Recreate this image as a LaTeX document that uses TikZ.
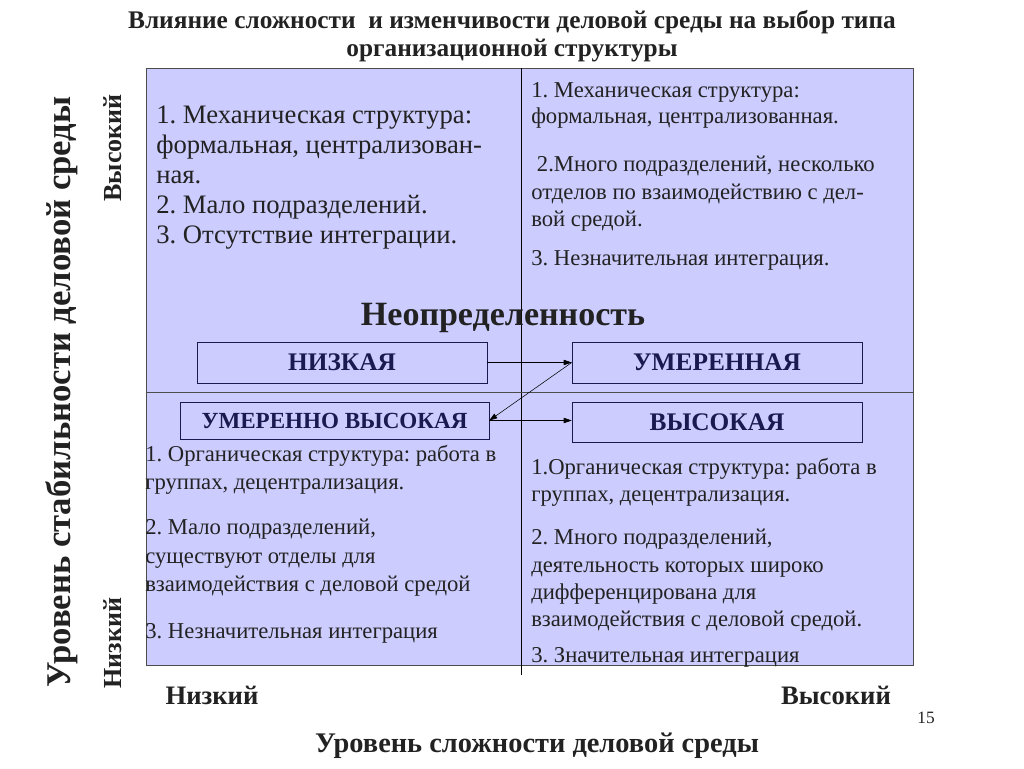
\documentclass[tikz,border=0pt]{standalone}
\usepackage{fontspec}
\setmainfont{Liberation Serif}
\usetikzlibrary{arrows.meta}
\frenchspacing

\definecolor{quadfill}{HTML}{CCCCFF}
\definecolor{navy}{HTML}{1A1A50}
\definecolor{ink}{HTML}{222222}

\begin{document}
\begin{tikzpicture}[x=0.75pt, y=-0.75pt,
  every node/.style={inner sep=0pt},
  txt/.style={anchor=north west, align=left, text=ink},
  level/.style={draw=navy, fill=quadfill, text=navy, font=\bfseries\fontsize{19}{22}\selectfont, minimum width=217.5pt, minimum height=30.75pt},
  axis/.style={font=\bfseries\fontsize{20}{22}\selectfont, text=ink},
  link/.style={-{Triangle[length=6pt, width=4pt]}, black, thin}
]
  \useasboundingbox (0,0) rectangle (1024,768);

  % title
  \node[align=center, font=\bfseries\fontsize{19}{21}\selectfont, text=ink] (title) at (512,36)
    {Влияние сложности\ \ и изменчивости деловой среды на выбор типа\\организационной структуры};

  % matrix of quadrants
  \fill[quadfill] (146,68) rectangle (913,665);
  \draw[black!70] (146,68) rectangle (913,665);
  \draw (521,68) -- (521,675);
  \draw[black!70] (146,392) -- (913,392);

  % top left
  \node[txt, font=\fontsize{20}{22.5}\selectfont] (mech1) at (156,106)
    {1. Механическая структура:\\формальная, централизован-\\ная.\\2. Мало подразделений.\\3. Отсутствие интеграции.};

  % top right
  \node[txt, font=\fontsize{17}{20}\selectfont] (mech2a) at (531,82)
    {1. Механическая структура:\\формальная, централизованная.};
  \node[txt, font=\fontsize{17}{20.6}\selectfont] (mech2b) at (531,156)
    {\ 2.Много подразделений, несколько\\отделов по взаимодействию с дел-\\вой средой.};
  \node[txt, font=\fontsize{17}{20}\selectfont] (mech2c) at (531,250)
    {3. Незначительная интеграция.};

  % bottom left
  \node[txt, font=\fontsize{17}{21.2}\selectfont] (org1a) at (145,445)
    {1. Органическая структура: работа в\\группах, децентрализация.};
  \node[txt, font=\fontsize{17}{21.2}\selectfont] (org1b) at (145,519)
    {2. Мало подразделений,\\существуют отделы для\\взаимодействия с деловой средой};
  \node[txt, font=\fontsize{17}{20}\selectfont] (org1c) at (145,623)
    {3. Незначительная интеграция};

  % bottom right
  \node[txt, font=\fontsize{17}{20.5}\selectfont] (org2a) at (531,458)
    {1.Органическая структура: работа в\\группах, децентрализация.};
  \node[txt, font=\fontsize{17}{20.5}\selectfont] (org2b) at (531,529)
    {2. Много подразделений,\\деятельность которых широко\\дифференцирована для\\взаимодействия с деловой средой.};
  \node[txt, font=\fontsize{17}{20}\selectfont] (org2c) at (531,647)
    {3. Значительная интеграция};

  % uncertainty levels
  \node[font=\bfseries\fontsize{25.5}{28}\selectfont, text=ink] (uncert) at (503,318) {Неопределенность};
  \node[level] (low) at (342,362.5) {НИЗКАЯ};
  \node[level] (moderate) at (717,362.5) {УМЕРЕННАЯ};
  \node[level, minimum width=231.75pt, minimum height=27.75pt, font=\bfseries\fontsize{17.3}{20}\selectfont] (modhigh) at (334.5,420.5) {УМЕРЕННО ВЫСОКАЯ};
  \node[level, minimum height=30pt] (high) at (717,422) {ВЫСОКАЯ};

  \draw[link] (low.east) -- (low.east -| moderate.west);
  \draw[link] (low.east -| moderate.west) -- (modhigh.east);
  \draw[link] (modhigh.east) -- (modhigh.east -| high.west);

  % axes
  \node[rotate=90, font=\bfseries\fontsize{26}{28}\selectfont, text=ink] (ylab) at (62,392) {Уровень стабильности деловой среды};
  \node[axis, rotate=90, font=\bfseries\fontsize{19.5}{22}\selectfont] (yhigh) at (113,148) {Высокий};
  \node[axis, rotate=90, font=\bfseries\fontsize{19.5}{22}\selectfont] (ylow) at (113,643) {Низкий};
  \node[axis] (xlow) at (212,695) {Низкий};
  \node[axis] (xhigh) at (836,695) {Высокий};
  \node[axis, font=\bfseries\fontsize{21.3}{24}\selectfont] (xlab) at (537,746) {Уровень сложности деловой среды};
  \node[font=\fontsize{13}{15}\selectfont, text=ink] (page) at (926,718) {15};
\end{tikzpicture}
\end{document}
